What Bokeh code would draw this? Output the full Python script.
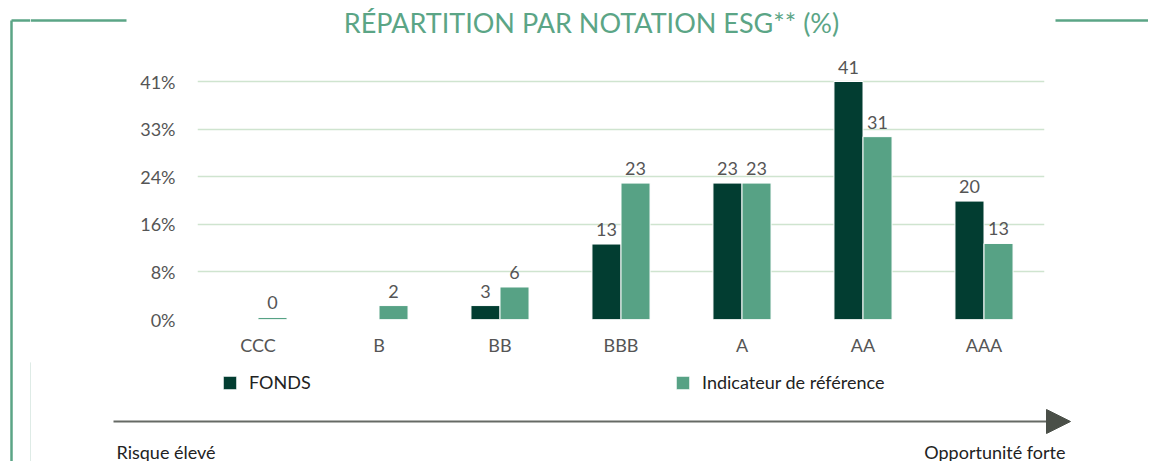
from bokeh.plotting import figure
from bokeh.layouts import column, row
from bokeh.models import (Range1d, FixedTicker, ColumnDataSource, LabelSet,
                          Legend, LegendItem, CDSView, BooleanFilter)
from bokeh.transform import dodge
from bokeh.core.properties import value
from bokeh.embed import file_html
from bokeh.resources import INLINE

# ---------------- data ----------------
categories = ["CCC", "B", "BB", "BBB", "A", "AA", "AAA"]
fonds = [0.0, 0.0, 2.4, 13.0, 23.5, 41.0, 20.4]
reference = [0.35, 2.4, 5.6, 23.5, 23.5, 31.5, 13.1]
fonds_labels = ["", "", "3", "13", "23", "41", "20"]
reference_labels = ["0", "2", "6", "23", "23", "31", "13"]
y_ticks = [0, 8.2, 16.4, 24.6, 32.8, 41.0]
y_tick_labels = ["0%", "8%", "16%", "24%", "33%", "41%"]
series_names = ["FONDS", "Indicateur de référence"]
title_text = "RÉPARTITION PAR NOTATION ESG** (%)"
scale_left = "Risque élevé"
scale_right = "Opportunité forte"

# ---------------- style / layout (page pixels) ----------------
DARK = "#023d31"
LIGHT = "#57a285"
FRAME_GREEN = "#5ba586"
GRID = "#cfe4cf"
FONT = "Lato"
W, H = 1148, 461
STRIP_W = 30          # left band holding the vertical frame line
TOP_H = 56            # title band
MID_Y1 = 362          # bottom of chart band
FRAME_L, FRAME_R, FRAME_B = 197, 1044, 319
Y41_PX = 81           # pixel row of the top gridline


def deco_fig(x0, x1, y0, y1):
    f = figure(width=x1 - x0, height=y1 - y0, x_range=Range1d(x0, x1), y_range=Range1d(y1, y0),
               x_axis_type=None, y_axis_type=None, title=None, toolbar_location=None,
               output_backend="svg", min_border=0)
    f.outline_line_color = None
    f.background_fill_color = "white"
    f.border_fill_color = "white"
    return f


# ---------------- left strip (vertical frame line) ----------------
strip = deco_fig(0, STRIP_W, 0, H)
strip.segment(x0=[11, 11], y0=[20, 20], x1=[11, STRIP_W], y1=[H, 20],
              line_color=FRAME_GREEN, line_width=2.5)

# ---------------- title band ----------------
top = deco_fig(STRIP_W, W, 0, TOP_H)
top.segment(x0=[STRIP_W, 1055], y0=[20, 20], x1=[126, W], y1=[20, 20],
            line_color=FRAME_GREEN, line_width=2.5)
top.text(x=[591], y=[22], text=[title_text], text_align="center", text_baseline="middle",
         text_font=value(FONT), text_font_size="27px", text_color=FRAME_GREEN)

# ---------------- chart ----------------
CW, CH = W - STRIP_W, MID_Y1 - TOP_H
frame_h = FRAME_B - TOP_H
y_top = max(y_ticks) * frame_h / (FRAME_B - Y41_PX)
pos = [i + 0.5 for i in range(len(categories))]

p = figure(x_range=Range1d(0, len(categories)), y_range=Range1d(0, y_top),
           width=CW, height=CH, output_backend="svg", toolbar_location=None, title=None,
           min_border_left=FRAME_L - STRIP_W, min_border_right=W - FRAME_R,
           min_border_top=0, min_border_bottom=MID_Y1 - FRAME_B)
p.outline_line_color = None
p.background_fill_color = "white"
p.border_fill_color = "white"

src = ColumnDataSource(dict(pos=pos, cat=categories, fonds=fonds, ref=reference))
r_f = p.vbar(x=dodge("pos", -0.12), top="fonds", width=0.24, source=src,
             fill_color=DARK, line_color="white", line_width=1,
             view=CDSView(filter=BooleanFilter([v > 0 for v in fonds])))
r_r = p.vbar(x=dodge("pos", 0.12), top="ref", width=0.24, source=src,
             fill_color=LIGHT, line_color="white", line_width=1)

fl_src = ColumnDataSource(dict(
    pos=[x for x, l in zip(pos, fonds_labels) if l],
    val=[v for v, l in zip(fonds, fonds_labels) if l],
    lab=[l for l in fonds_labels if l]))
rl_src = ColumnDataSource(dict(
    pos=[x for x, l in zip(pos, reference_labels) if l],
    val=[v for v, l in zip(reference, reference_labels) if l],
    lab=[l for l in reference_labels if l]))
for s, off in ((fl_src, -0.12), (rl_src, 0.12)):
    p.add_layout(LabelSet(x=dodge("pos", off), y="val", text="lab", source=s,
                          text_align="center", text_baseline="alphabetic", y_offset=8,
                          text_font=value(FONT), text_font_size="18px", text_color="#555555"))

p.xaxis.ticker = FixedTicker(ticks=pos)
p.xaxis.major_label_overrides = {x: c for x, c in zip(pos, categories)}
p.yaxis.ticker = FixedTicker(ticks=y_ticks)
p.yaxis.major_label_overrides = {t: l for t, l in zip(y_ticks, y_tick_labels)}
for ax in (p.xaxis, p.yaxis):
    ax.axis_line_color = None
    ax.major_tick_line_color = None
    ax.minor_tick_line_color = None
    ax.major_tick_out = 0
    ax.major_tick_in = 0
    ax.major_label_text_font = FONT
    ax.major_label_text_font_size = "18px"
    ax.major_label_text_color = "#555555"
p.yaxis.major_label_standoff = 22
p.xaxis.major_label_standoff = 14
p.xgrid.grid_line_color = None
p.ygrid.grid_line_color = GRID
p.ygrid.grid_line_width = 1.5

# ---------------- bottom band: legend, arrow, scale texts ----------------
bot = deco_fig(STRIP_W, W, MID_Y1, H)
bot.segment(x0=[113], y0=[421], x1=[1047], y1=[421], line_color="#666a65", line_width=2)
bot.patch(x=[1046, 1070, 1046], y=[409, 421, 433], fill_color="#4a4f48", line_color="#4a4f48")
bot.text(x=[116], y=[451], text=[scale_left], text_align="left", text_baseline="middle",
         text_font=value(FONT), text_font_size="18px", text_color="#222222")
bot.text(x=[1065], y=[451], text=[scale_right], text_align="right", text_baseline="middle",
         text_font=value(FONT), text_font_size="18px", text_color="#222222")

# legend swatches mirror the bar styles (helper glyphs kept outside the visible range)
sw_f = bot.vbar(x=[-50], top=[MID_Y1], bottom=[H], width=1, fill_color=DARK,
                line_color="white", line_width=1)
sw_r = bot.vbar(x=[-50], top=[MID_Y1], bottom=[H], width=1, fill_color=LIGHT,
                line_color="white", line_width=1)
for name, rend, lx in ((series_names[0], sw_f, 221), (series_names[1], sw_r, 674)):
    leg = Legend(items=[LegendItem(label=name, renderers=[rend])],
                 location=(lx - STRIP_W, H - 374 - 19),
                 orientation="horizontal", padding=0, margin=0, spacing=0,
                 glyph_width=17, glyph_height=17, label_height=17, label_standoff=11,
                 label_text_font=FONT, label_text_font_size="18px", label_text_color="#222222",
                 border_line_color=None, background_fill_alpha=0)
    bot.add_layout(leg)

layout = row(strip, column(top, row(p), bot))
open("out.html", "w").write(file_html(layout, INLINE))
